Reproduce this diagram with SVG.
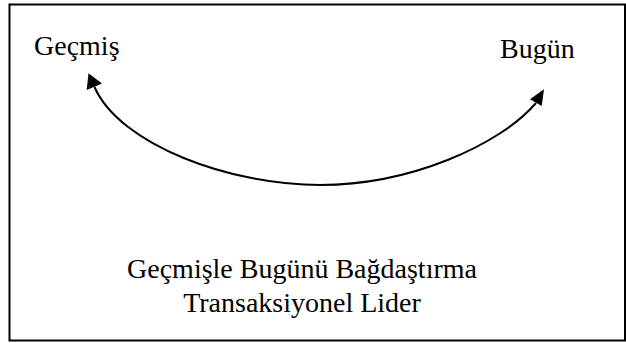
<svg xmlns="http://www.w3.org/2000/svg" width="626" height="343" viewBox="0 0 626 343">
<style>
.t{font-family:"Liberation Serif","Times New Roman",serif;font-size:28px;fill:#000}
.c{fill:none;stroke:#000;stroke-width:2}
.h{fill:#000;stroke:none}
</style>
<rect x="0" y="0" width="626" height="343" fill="#fff"/>
<g id="frame"><rect x="9.5" y="4.5" width="615.5" height="336" fill="none" stroke="#000" stroke-width="2"/></g>
<g id="gecmis"><text class="t" x="34" y="55">Geçmiş</text></g>
<g id="bugun"><text class="t" x="500" y="58">Bugün</text></g>
<g id="caption">
<text class="t" x="302" y="278" text-anchor="middle">Geçmişle Bugünü Bağdaştırma</text>
<text class="t" x="302" y="312" text-anchor="middle">Transaksiyonel Lider</text>
</g>
<g id="connectors">
<path class="c" d="M94.5,87 C120,145 230,185 320,185 C410,185 500,145 536,103"/>
<polygon class="h" points="88.5,73.3 86.7,90 102,83.5"/>
<polygon class="h" points="544,89.3 530,99.3 541.7,106"/>
</g>
</svg>
